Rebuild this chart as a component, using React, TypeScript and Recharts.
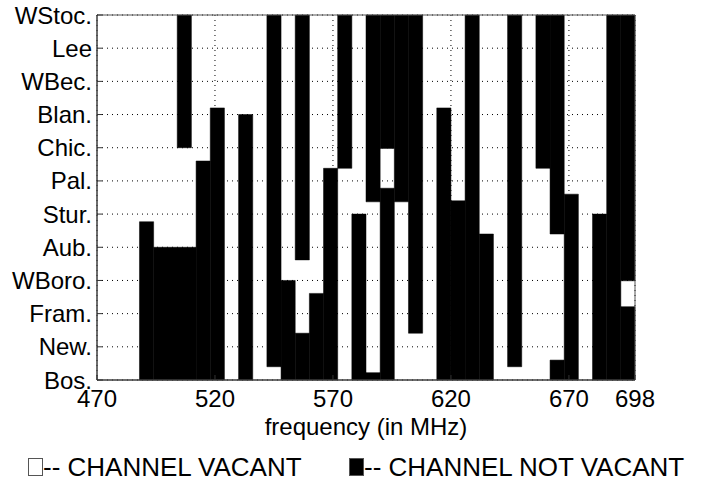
import { ComposedChart, XAxis, YAxis, CartesianGrid, ReferenceArea, Label } from "recharts";

const FONT = '"Liberation Sans", Arial, Helvetica, sans-serif';

// y axis: one row per location, Bos. at the bottom
const locations = [
  "Bos.", "New.", "Fram.", "WBoro.", "Aub.", "Stur.",
  "Pal.", "Chic.", "Blan.", "WBec.", "Lee", "WStoc.",
];
const freqTicks = [470, 520, 570, 620, 670, 698];

// occupied (not vacant) blocks: [from MHz, to MHz, bottom, top] in location units
const occupied: [number, number, number, number][] = [
  [488, 494, 0, 4.77],
  [494, 512, 0, 4],
  [504, 510, 7, 11],
  [512, 518, 0, 6.6],
  [518, 524, 0, 8.2],
  [530, 536, 0, 8],
  [542, 548, 0.4, 11],
  [548, 554, 0, 3],
  [554, 560, 0, 1.41],
  [554, 560, 3.62, 11],
  [560, 566, 0, 2.61],
  [566, 572, 0, 6.38],
  [572, 578, 6.38, 11],
  [578, 584, 0, 5],
  [584, 590, 0, 0.22],
  [584, 590, 5.37, 11],
  [590, 596, 0, 5.78],
  [590, 596, 6.98, 11],
  [596, 602, 5.37, 11],
  [602, 608, 1.41, 11],
  [614, 620, 0, 8.2],
  [620, 626, 0, 5.4],
  [626, 632, 0, 11],
  [632, 638, 0, 4.4],
  [644, 650, 0.4, 11],
  [656, 662, 6.38, 11],
  [662, 668, 0, 0.6],
  [662, 668, 4.4, 11],
  [668, 674, 0, 5.6],
  [680, 686, 0, 5],
  [686, 692, 0, 11],
  [692, 698, 0, 2.21],
  [692, 698, 2.99, 11],
];

const legendItems = [
  { label: "-- CHANNEL VACANT", fill: "#fff", left: 28 },
  { label: "-- CHANNEL NOT VACANT", fill: "#000", left: 349 },
];

// the x axis needs rows to build its scale
const axisRows = freqTicks.map((f) => ({ f }));

export default function App() {
  return (
    <div
      style={{
        position: "absolute",
        left: 0,
        top: 0,
        width: 702,
        height: 498,
        background: "#fff",
        fontFamily: FONT,
      }}
    >
      <ComposedChart
        width={702}
        height={498}
        data={axisRows}
        margin={{ top: 15, right: 67, bottom: 88, left: 0 }}
      >
        <CartesianGrid stroke="#000" strokeDasharray="1 4" />
        <XAxis
          type="number"
          dataKey="f"
          domain={[470, 698]}
          ticks={freqTicks}
          interval={0}
          allowDataOverflow
          tickSize={-5}
          tickMargin={15}
          tickLine={{ stroke: "#333" }}
          height={30}
          axisLine={{ stroke: "#333" }}
          tick={{ fontSize: 24, fill: "#000", fontFamily: FONT }}
        >
          <Label
            value="frequency (in MHz)"
            position="bottom"
            offset={8}
            style={{ fontSize: 24, fill: "#000", fontFamily: FONT }}
          />
        </XAxis>
        <YAxis
          type="number"
          domain={[0, 11]}
          ticks={locations.map((_, i) => i)}
          tickFormatter={(v: number) => locations[v]}
          interval={0}
          allowDataOverflow
          width={97}
          tickSize={-5}
          tickMargin={10}
          tickLine={{ stroke: "#333" }}
          axisLine={{ stroke: "#333" }}
          tick={{ fontSize: 24, fill: "#000", fontFamily: FONT }}
        />
        {occupied.map(([f0, f1, y0, y1], i) => (
          <ReferenceArea
            key={i}
            x1={f0}
            x2={f1}
            y1={y0}
            y2={y1}
            fill="#000"
            fillOpacity={1}
            stroke="#000"
            strokeWidth={0.5}
          />
        ))}
        <ReferenceArea x1={470} x2={698} y1={0} y2={11} fill="none" fillOpacity={0} stroke="#555" strokeWidth={1} />
      </ComposedChart>
      {legendItems.map((it) => (
        <div
          key={it.label}
          style={{
            position: "absolute",
            left: it.left,
            top: 453,
            height: 28,
            display: "flex",
            alignItems: "center",
            fontSize: 26,
            color: "#000",
            whiteSpace: "nowrap",
          }}
        >
          <span
            style={{
              display: "inline-block",
              width: 15,
              height: 18,
              background: it.fill,
              border: "1px solid #555",
              boxSizing: "border-box",
            }}
          />
          {it.label}
        </div>
      ))}
    </div>
  );
}
